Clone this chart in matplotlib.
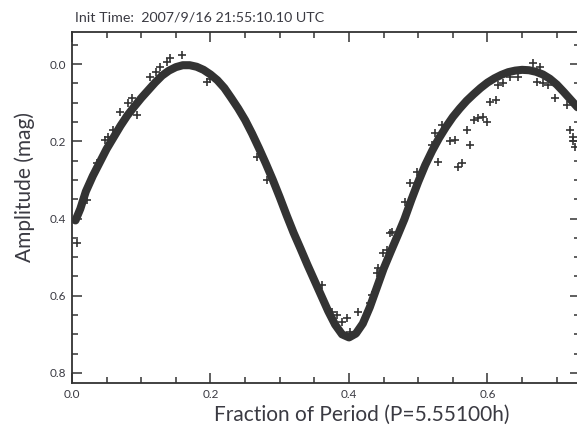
import numpy as np
import matplotlib
matplotlib.use('Agg')
import matplotlib.pyplot as plt
from matplotlib.ticker import MultipleLocator

# main light curve (phase, mag)
phase = [0.005, 0.012, 0.020, 0.030, 0.040, 0.050, 0.060, 0.070, 0.080, 0.090,
         0.100, 0.110, 0.120, 0.130, 0.140, 0.150, 0.160, 0.170, 0.180, 0.190,
         0.200, 0.210, 0.220, 0.230, 0.240, 0.250, 0.260, 0.270, 0.280, 0.290,
         0.300, 0.310, 0.320, 0.330, 0.340, 0.350, 0.360, 0.370, 0.380, 0.390,
         0.400, 0.410, 0.420, 0.430, 0.440, 0.450, 0.460, 0.470, 0.480, 0.490,
         0.500, 0.510, 0.520, 0.530, 0.540, 0.550, 0.560, 0.570, 0.580, 0.590,
         0.600, 0.610, 0.620, 0.630, 0.640, 0.650, 0.660, 0.670, 0.680, 0.690,
         0.700, 0.710, 0.720, 0.730]
mag = [0.405, 0.375, 0.330, 0.290, 0.255, 0.220, 0.190, 0.160, 0.133, 0.110,
       0.088, 0.068, 0.048, 0.030, 0.017, 0.008, 0.003, 0.003, 0.007, 0.015,
       0.027, 0.042, 0.062, 0.088, 0.115, 0.145, 0.180, 0.218, 0.258, 0.300,
       0.345, 0.392, 0.437, 0.478, 0.520, 0.560, 0.600, 0.640, 0.675, 0.700,
       0.708, 0.698, 0.672, 0.630, 0.580, 0.530, 0.487, 0.445, 0.402, 0.352,
       0.305, 0.262, 0.225, 0.192, 0.163, 0.137, 0.115, 0.095, 0.078, 0.062,
       0.048, 0.037, 0.028, 0.021, 0.017, 0.015, 0.016, 0.020, 0.027, 0.038,
       0.053, 0.072, 0.092, 0.112]

# scattered points off the main band
out_phase = [0.007, 0.159, 0.142, 0.137, 0.127, 0.122, 0.113, 0.087, 0.081, 0.069,
             0.059, 0.052, 0.048, 0.094, 0.195, 0.200, 0.267, 0.281, 0.036, 0.021,
             0.361, 0.375, 0.382, 0.390, 0.397, 0.413, 0.401, 0.430, 0.433, 0.440,
             0.442, 0.449, 0.455, 0.459, 0.462, 0.481, 0.488, 0.498, 0.524, 0.534,
             0.520, 0.529, 0.666, 0.676, 0.671, 0.680, 0.687, 0.697, 0.715, 0.644,
             0.632, 0.622, 0.615, 0.613, 0.604, 0.594, 0.587, 0.580, 0.599, 0.570,
             0.553, 0.546, 0.575, 0.563, 0.557, 0.719, 0.724, 0.724, 0.726]
out_mag = [0.463, -0.023, -0.015, -0.005, 0.008, 0.020, 0.033, 0.088, 0.100, 0.124,
           0.171, 0.188, 0.197, 0.132, 0.046, 0.040, 0.240, 0.300, 0.256, 0.352,
           0.572, 0.641, 0.649, 0.667, 0.657, 0.642, 0.693, 0.618, 0.598, 0.541,
           0.528, 0.489, 0.481, 0.437, 0.434, 0.357, 0.308, 0.279, 0.179, 0.158,
           0.210, 0.253, -0.002, 0.007, 0.046, 0.050, 0.055, 0.089, 0.106, 0.033,
           0.033, 0.050, 0.055, 0.093, 0.098, 0.137, 0.140, 0.145, 0.150, 0.171,
           0.197, 0.200, 0.210, 0.256, 0.266, 0.171, 0.188, 0.200, 0.214]

txt = '#3a3a42'
ink = '#333333'
plt.rcParams['font.family'] = ['Lato', 'DejaVu Sans']

fig = plt.figure(figsize=(5.77, 4.28), dpi=100)
ax = fig.add_axes([72 / 577, 1 - 383 / 428, 508 / 577, 351 / 428])

ax.plot(phase, mag, '-', color=ink, lw=5.8, solid_capstyle='round')
ax.plot(phase, mag, '+', color=ink, ms=5, mew=1.2)
ax.plot(out_phase, out_mag, '+', color=ink, ms=6, mew=1.2, clip_on=False)

ax.set_xlim(0, 0.7336)
ax.set_ylim(0.826, -0.083)
ax.xaxis.set_major_locator(MultipleLocator(0.2))
ax.xaxis.set_minor_locator(MultipleLocator(0.05))
ax.yaxis.set_major_locator(MultipleLocator(0.2))
ax.yaxis.set_minor_locator(MultipleLocator(0.05))
ax.xaxis.set_major_formatter(lambda v, p: '%.1f' % v)
ax.yaxis.set_major_formatter(lambda v, p: '%.1f' % abs(v))
ax.tick_params(which='both', direction='in', top=True, right=True,
               color=ink, labelcolor=txt, labelsize=8.5, width=1.1)
ax.tick_params(which='major', length=7, pad=4)
ax.tick_params(which='minor', length=4)
for s in ax.spines.values():
    s.set_color(ink)
    s.set_linewidth(1.3)

ax.set_xlabel('Fraction of Period (P=5.55100h)', fontsize=15, color=txt, va='top')
ax.xaxis.set_label_coords(0.571, -0.062)
ax.set_ylabel('Amplitude (mag)', fontsize=15, color=txt, va='bottom')
ax.yaxis.set_label_coords(-0.073, 0.558)
fig.text(75 / 577, 1 - 17 / 428, 'Init Time:  2007/9/16 21:55:10.10 UTC',
         fontsize=10.3, color=txt, va='center', ha='left')

fig.savefig('out.png', dpi=100)
